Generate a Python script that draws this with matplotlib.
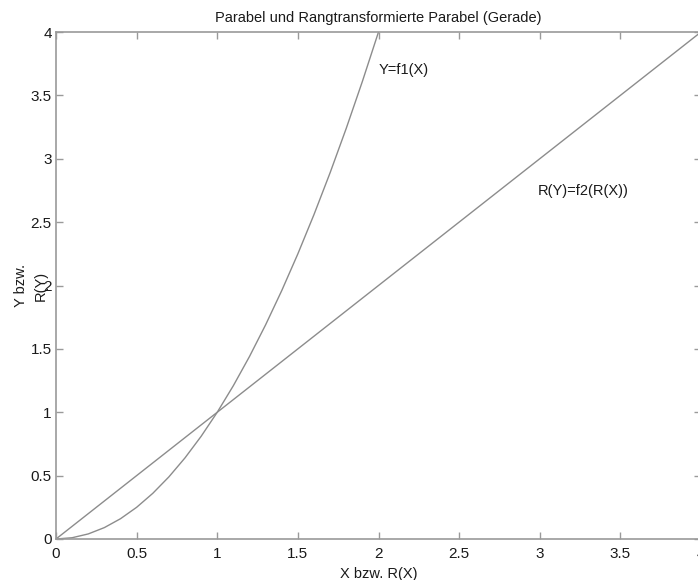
import matplotlib
matplotlib.use('Agg')
import matplotlib.pyplot as plt

# Parabel Y = f1(X)
xpar = [0, 0.1, 0.2, 0.3, 0.4, 0.5, 0.6, 0.7, 0.8, 0.9, 1.0,
        1.1, 1.2, 1.3, 1.4, 1.5, 1.6, 1.7, 1.8, 1.9, 2.0]
ypar = [0, 0.01, 0.04, 0.09, 0.16, 0.25, 0.36, 0.49, 0.64, 0.81, 1.0,
        1.21, 1.44, 1.69, 1.96, 2.25, 2.56, 2.89, 3.24, 3.61, 4.0]

# Rangtransformierte Parabel (Gerade)
xrang = [0, 4]
yrang = [0, 4]

ticks = [0, 0.5, 1, 1.5, 2, 2.5, 3, 3.5, 4]
ticklabels = ['0', '0.5', '1', '1.5', '2', '2.5', '3', '3.5', '4']

plt.rcParams['font.family'] = ['Liberation Sans', 'DejaVu Sans']

linecol = '#8c8c8c'
axcol = '#9a9a9a'
textcol = '#1a1a1a'

fig = plt.figure(figsize=(6.98, 5.80), dpi=100)
ax = fig.add_axes([56/698, 41/580, 645/698, 507/580])

ax.plot(xpar, ypar, color=linecol, lw=1.0)
ax.plot(xrang, yrang, color=linecol, lw=1.0)

ax.set_xlim(0, 4)
ax.set_ylim(0, 4)
ax.set_xticks(ticks)
ax.set_xticklabels(ticklabels)
ax.set_yticks(ticks)
ax.set_yticklabels(ticklabels)

for s in ax.spines.values():
    s.set_color(axcol)
    s.set_linewidth(1.2)
ax.tick_params(direction='in', length=5, width=1, color=axcol,
               top=True, right=True, labelsize=11, labelcolor=textcol, pad=3)
ax.tick_params(axis='x', pad=6)

ax.set_title('Parabel und Rangtransformierte Parabel (Gerade)',
             fontsize=10.5, color=textcol, pad=7)
ax.set_xlabel('X bzw. R(X)', fontsize=10.5, color=textcol, labelpad=4)
ax.text(-0.039, 0.5, 'Y bzw.\nR(Y)', transform=ax.transAxes, rotation=90,
        ha='center', va='center', ma='center', fontsize=10.5, color=textcol,
        linespacing=1.6)

ax.text(2.0, 3.70, 'Y=f1(X)', fontsize=10.5, color=textcol, va='center', ha='left')
ax.text(2.99, 2.745, 'R(Y)=f2(R(X))', fontsize=10.5, color=textcol, va='center', ha='left')

fig.savefig('out.png', dpi=100)
